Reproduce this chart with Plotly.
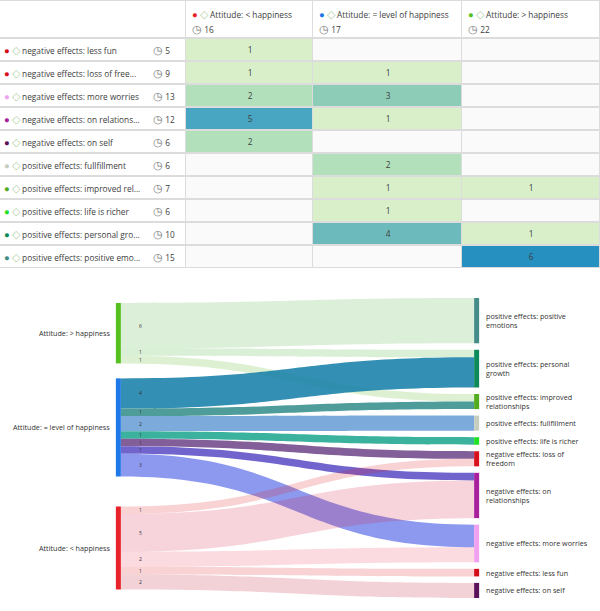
import textwrap
import plotly.graph_objects as go

# ---------------- data ----------------
attitudes = ["Attitude: < happiness", "Attitude: = level of happiness", "Attitude: > happiness"]
attitude_counts = [16, 17, 22]

effects = [
    "negative effects: less fun",
    "negative effects: loss of freedom",
    "negative effects: more worries",
    "negative effects: on relationships",
    "negative effects: on self",
    "positive effects: fullfillment",
    "positive effects: improved relationships",
    "positive effects: life is richer",
    "positive effects: personal growth",
    "positive effects: positive emotions",
]
effect_table_labels = [
    "negative effects: less fun",
    "negative effects: loss of free...",
    "negative effects: more worries",
    "negative effects: on relations...",
    "negative effects: on self",
    "positive effects: fullfillment",
    "positive effects: improved rel...",
    "positive effects: life is richer",
    "positive effects: personal gro...",
    "positive effects: positive emo...",
]
effect_counts = [5, 9, 13, 12, 6, 6, 7, 6, 10, 15]

less_happiness = [1, 1, 2, 5, 2, None, None, None, None, None]
same_happiness = [None, 1, 3, 1, None, 2, 1, 1, 4, None]
more_happiness = [None, None, None, None, None, None, 1, None, 1, 6]

sankey_sources = ["Attitude: > happiness", "Attitude: = level of happiness", "Attitude: < happiness"]
sankey_targets = [
    "positive effects: positive emotions",
    "positive effects: personal growth",
    "positive effects: improved relationships",
    "positive effects: fullfillment",
    "positive effects: life is richer",
    "negative effects: loss of freedom",
    "negative effects: on relationships",
    "negative effects: more worries",
    "negative effects: less fun",
    "negative effects: on self",
]

# ---------------- styles ----------------
attitude_colors = {
    "Attitude: < happiness": "#e8222a",
    "Attitude: = level of happiness": "#1f78e8",
    "Attitude: > happiness": "#56c020",
}
effect_colors = {
    "negative effects: less fun": "#d40d18",
    "negative effects: loss of freedom": "#d8101c",
    "negative effects: more worries": "#f0a2f0",
    "negative effects: on relationships": "#a8209c",
    "negative effects: on self": "#5a1258",
    "positive effects: fullfillment": "#c6cec0",
    "positive effects: improved relationships": "#52ac1e",
    "positive effects: life is richer": "#22e022",
    "positive effects: personal growth": "#0d8a5a",
    "positive effects: positive emotions": "#448c8a",
}
level_colors = {-1: "#ffffff", 0: "#fafafa", 1: "#d8efca", 2: "#b2e0ba", 3: "#8dcdb8",
                4: "#6dbabd", 5: "#48a6c2", 6: "#2690c0"}
FONT = "Open Sans"
TXT = "#404040"
W, HF = 600, 611


def esc(s):
    return s.replace("<", "&lt;").replace(">", "&gt;")


def hex_rgb(h):
    h = h.lstrip("#")
    return tuple(int(h[i:i + 2], 16) for i in (0, 2, 4))


def blend(c1, c2, t):
    a, b = hex_rgb(c1), hex_rgb(c2)
    return tuple(round(a[i] * (1 - t) + b[i] * t) for i in range(3))


def rgba(rgb, a):
    return f"rgba({rgb[0]},{rgb[1]},{rgb[2]},{a})"


def colored(ch, c, size):
    return f"<span style='color:{c};font-size:{size}px'>{ch}</span>"


diamond = colored("◇", "#b0d0a4", 10.5)
clock = colored("◷", "#7a7a7a", 10.5)


def dot(c):
    return colored("●", c, 9.5)


# ---------------- table (drawn as a heatmap grid) ----------------
cols_vals = [less_happiness, same_happiness, more_happiness]
col_widths = [186, 127, 149, 138]
col_edges = [0]
for w in col_widths:
    col_edges.append(col_edges[-1] + w)
header_px, row_px, table_px = 38, 23, 268
header_h = header_px / row_px
row_edges = [-header_h] + list(range(len(effects) + 1))

z = [[-1] * 4] + [[-1] + [(c[i] or 0) for c in cols_vals] for i in range(len(effects))]
ztext = [[""] * 4] + [[""] + [("" if c[i] is None else str(c[i])) for c in cols_vals]
                      for i in range(len(effects))]
lv = sorted(level_colors)
nlv = len(lv)
cscale = []
for k, key in enumerate(lv):
    lo = 0 if k == 0 else (k - 0.5) / (nlv - 1)
    hi = 1 if k == nlv - 1 else (k + 0.5) / (nlv - 1)
    cscale += [[lo, level_colors[key]], [hi, level_colors[key]]]

grid = go.Heatmap(
    x=col_edges, y=row_edges, z=z, text=ztext, texttemplate="%{text}",
    textfont=dict(family=FONT, size=8.3, color=TXT),
    colorscale=cscale, zmin=lv[0], zmax=lv[-1], showscale=False,
    xgap=1, ygap=2, hoverinfo="skip",
)

# ---------------- sankey ----------------
matrix = dict(zip(attitudes, cols_vals))
node_names = sankey_sources + sankey_targets
nidx = {n: i for i, n in enumerate(node_names)}
src, tgt, val, lcol = [], [], [], []
for s in sankey_sources:
    for t in sankey_targets:
        v = matrix[s][effects.index(t)]
        if v:
            src.append(nidx[s])
            tgt.append(nidx[t])
            val.append(v)
            if s == "Attitude: = level of happiness":
                lcol.append(rgba(blend(attitude_colors[s], effect_colors[t], 0.45), 0.88))
            else:
                lcol.append(rgba(blend(attitude_colors[s], effect_colors[t], 0.3), 0.2))

sk_left, sk_right = 118, 477
sk_top, sk_bot = 298, 598
Hs = sk_bot - sk_top
pad = 6.5
thickness = 5
total = sum(val)
ky = (Hs - (len(sankey_targets) - 1) * pad) / total

node_tot = {n: 0 for n in node_names}
for s, t, v in zip(src, tgt, val):
    node_tot[node_names[s]] += v
    node_tot[node_names[t]] += v

centers, tops = {}, {}
y = 0.0
for t in sankey_targets:
    tops[t] = y
    centers[t] = y + node_tot[t] * ky / 2
    y += node_tot[t] * ky + pad
left_offset = 5
left_gaps = [15, 30, 0]
y = left_offset
for s, g in zip(sankey_sources, left_gaps):
    tops[s] = y
    centers[s] = y + node_tot[s] * ky / 2
    y += node_tot[s] * ky + g

node_x = [0.001 if n in sankey_sources else 0.999 for n in node_names]
node_y = [centers[n] / Hs for n in node_names]
node_col = [attitude_colors[n] if n in attitude_colors else effect_colors[n] for n in node_names]

sankey = go.Sankey(
    domain=dict(x=[sk_left / W, sk_right / W], y=[1 - sk_bot / HF, 1 - sk_top / HF]),
    arrangement="snap",
    node=dict(
        label=[""] * len(node_names),
        customdata=node_names,
        hovertemplate="%{customdata}: %{value}<extra></extra>",
        x=node_x,
        y=node_y,
        pad=pad,
        thickness=thickness,
        color=node_col,
        line=dict(width=0),
    ),
    link=dict(source=src, target=tgt, value=val, color=lcol),
)

fig = go.Figure([grid, sankey])

ann = []
# table header (two separate lines)
line1_y = -header_h + 13.5 / row_px
line2_y = -header_h + 28.5 / row_px
for a, n, x0 in zip(attitudes, attitude_counts, col_edges[1:]):
    ann.append(dict(x=x0 + 5, y=line1_y, xref="x", yref="y",
                    text=f"{dot(attitude_colors[a])} {diamond} {esc(a)}",
                    xanchor="left", yanchor="middle", align="left", showarrow=False, borderpad=0,
                    font=dict(family=FONT, size=8.3, color=TXT)))
    ann.append(dict(x=x0 + 5, y=line2_y, xref="x", yref="y",
                    text=f"{clock} {n}",
                    xanchor="left", yanchor="middle", align="left", showarrow=False, borderpad=0,
                    font=dict(family=FONT, size=8.3, color=TXT)))
# table row labels
for i, (e, lab, n) in enumerate(zip(effects, effect_table_labels, effect_counts)):
    ann.append(dict(x=3, y=i + 0.5, xref="x", yref="y",
                    text=f"{dot(effect_colors[e])} {diamond} {lab}",
                    xanchor="left", yanchor="middle", showarrow=False, borderpad=0,
                    font=dict(family=FONT, size=8.3, color=TXT)))
    ann.append(dict(x=152, y=i + 0.5, xref="x", yref="y", text=f"{clock} {n}",
                    xanchor="left", yanchor="middle", showarrow=False, borderpad=0,
                    font=dict(family=FONT, size=8.3, color=TXT)))

# sankey node labels
for n in node_names:
    yp = 1 - (sk_top + centers[n]) / HF
    if n in sankey_sources:
        ann.append(dict(x=(sk_left - 7) / W, y=yp, xref="paper", yref="paper", text=esc(n),
                        xanchor="right", yanchor="middle", showarrow=False, align="right",
                        borderpad=0, font=dict(family=FONT, size=7.2, color="#333333")))
    else:
        txt = "<br>".join(textwrap.wrap(n, 26)) if len(n) > 32 else n
        ann.append(dict(x=(sk_right + 8) / W, y=yp, xref="paper", yref="paper", text=txt,
                        xanchor="left", yanchor="middle", showarrow=False, align="left",
                        borderpad=0, font=dict(family=FONT, size=7.2, color="#333333")))

# link value labels at the source side
offs = {s: 0.0 for s in sankey_sources}
for s_i, t_i, v in zip(src, tgt, val):
    s = node_names[s_i]
    yc = tops[s] + offs[s] + v * ky / 2
    offs[s] += v * ky
    ann.append(dict(x=(sk_left + 22) / W, y=1 - (sk_top + yc) / HF, xref="paper", yref="paper",
                    text=str(v), showarrow=False, xanchor="center", yanchor="middle", borderpad=0,
                    font=dict(family=FONT, size=5, color="#333333")))

fig.update_layout(
    width=W, height=HF,
    margin=dict(l=0, r=0, t=0, b=0),
    paper_bgcolor="#ffffff",
    plot_bgcolor="#dcdcdc",
    xaxis=dict(range=[col_edges[0], col_edges[-1]], domain=[0, 1], visible=False, fixedrange=True),
    yaxis=dict(range=[len(effects), -header_h], domain=[1 - table_px / HF, 1], visible=False,
               fixedrange=True),
    annotations=ann,
    font=dict(family=FONT),
)

fig.write_html("out.html", config={"displayModeBar": False},
               post_script="document.body.style.margin='0';")
